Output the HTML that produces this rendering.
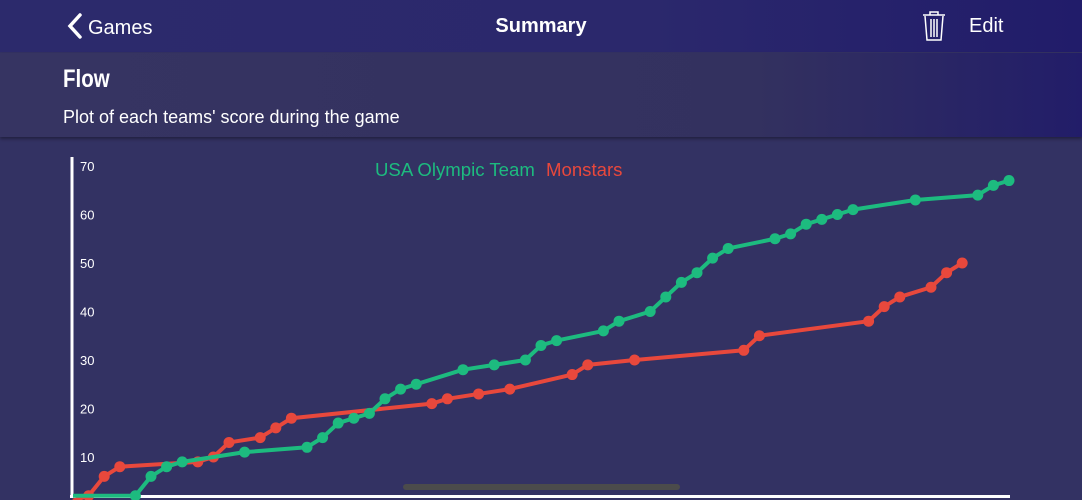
<!DOCTYPE html>
<html><head><meta charset="utf-8"><style>
body{margin:0;width:1082px;height:500px;overflow:hidden;background:#333263;font-family:"Liberation Sans",sans-serif;position:relative}
.nav{position:absolute;left:0;top:0;width:1082px;height:52px;background:linear-gradient(90deg,#2c2a6c,#2b286c 60%,#211c6a);color:#fff}
.sub{position:absolute;left:0;top:53px;width:1082px;height:84px;background:linear-gradient(90deg,#363462,#33315f 70%,#221d69);box-shadow:0 2px 3px rgba(0,0,0,.35)}
</style></head><body>
<div class="nav">
 <div style="position:absolute;left:66px;top:13px;font-size:20px;color:#fff">
  <svg width="22" height="26" style="vertical-align:-5px"><path d="M14 2 L4 13 L14 24" stroke="#fff" stroke-width="3.5" fill="none" stroke-linecap="round"/></svg>Games</div>
 <div style="position:absolute;left:0;width:1082px;text-align:center;top:15px;font-size:20px;font-weight:600">Summary</div>
 <svg style="position:absolute;left:921px;top:10px" width="26" height="32"><path d="M2 5 H24 M9 5 V2 H17 V5 M4 6 L6 30 H20 L22 6 M10 9 V27 M13 9 V27 M16 9 V27" stroke="#fff" stroke-width="1.5" fill="none"/></svg>
 <div style="position:absolute;left:969px;top:15px;font-size:20px">Edit</div>
</div>
<div class="sub">
 <div style="position:absolute;left:63px;top:12px;font-size:25px;color:#fff;font-weight:bold;transform:scaleX(0.82);transform-origin:left">Flow</div>
 <div style="position:absolute;left:63px;top:54px;font-size:18px;color:#fff">Plot of each teams' score during the game</div>
</div>
<svg id="chart" width="1082" height="500" style="position:absolute;left:0;top:0"></svg>
<script>
const greenT=[0,4,5,6,7,11,15,16,17,18,19,20,21,22,25,27,29,30,31,34,35,37,38,39,40,41,42,45,46,47,48,49,50,54,58,59,60];
const greenV=[2,2,6,8,9,11,12,14,17,18,19,22,24,25,28,29,30,33,34,36,38,40,43,46,48,51,53,55,56,58,59,60,61,63,64,66,67];
const redT=[0,1,2,3,8,9,10,12,13,14,23,24,26,28,32,33,36,43,44,51,52,53,55,56,57];
const redV=[1,2,6,8,9,10,13,14,16,18,21,22,23,24,27,29,30,32,35,38,41,43,45,48,50];
const yTicks=[10,20,30,40,50,60,70];
const NS="http://www.w3.org/2000/svg",svg=document.getElementById('chart');
const X=t=>73+15.6*t, Y=v=>505.5-4.85*v;
function mk(tag,a){const e=document.createElementNS(NS,tag);for(const k in a)e.setAttribute(k,a[k]);svg.appendChild(e);return e;}
const ax=mk('line',{x1:72,y1:157,x2:72,y2:497,stroke:'#fff','stroke-width':3});


const bx=mk('line',{x1:70,y1:496.5,x2:1010,y2:496.5,stroke:'#fff','stroke-width':3});


yTicks.forEach(v=>{const t=mk('text',{x:80,y:Y(v)+5,fill:'#fff','font-size':13});t.textContent=v;

});
function series(T,V,c,name){
 const p=mk('polyline',{points:T.map((t,i)=>X(t)+','+Y(V[i])).join(' '),fill:'none',stroke:c,'stroke-width':4,'stroke-linejoin':'round'});
 
 
 T.forEach((t,i)=>{if(i===0)return;const d=mk('circle',{cx:X(t),cy:Y(V[i]),r:5.5,fill:c});
 
 });
}
series(redT,redV,'#e8483c','monstars');
series(greenT,greenV,'#1dbb7f','usa');
const l1=mk('text',{x:375,y:176,fill:'#1dbb7f','font-size':18.6});l1.textContent='USA Olympic Team';


const l2=mk('text',{x:546,y:176,fill:'#e8483c','font-size':18.6});l2.textContent='Monstars';


const sb=mk('rect',{x:403,y:484,width:277,height:6,rx:3,fill:'#4b4b4b'});


</script>
</body></html>
